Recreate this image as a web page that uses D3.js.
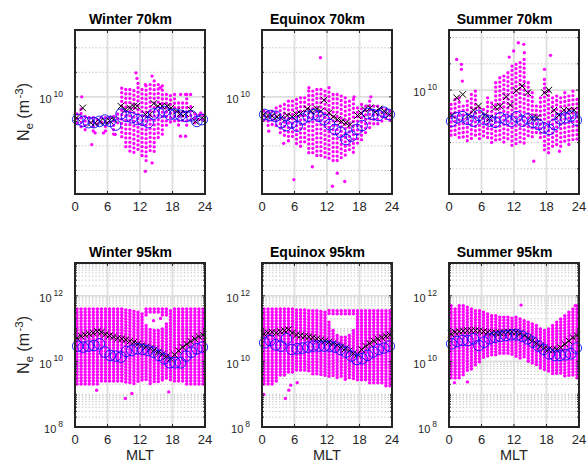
<!DOCTYPE html>
<html lang="en">
<head>
<meta charset="UTF-8">
<title>Ne vs MLT</title>
<script src="https://d3js.org/d3.v7.min.js"></script>
<style>
    body { margin: 0; background: #fff; }
    svg { display: block; font-family: "Liberation Sans", Arial, sans-serif; }
</style>
</head>
<body>
<script>
    // MLT bins (hours)
    const hourBins = [0.5, 1.5, 2.5, 3.5, 4.5, 5.5, 6.5, 7.5, 8.5, 9.5, 10.5, 11.5,
        12.5, 13.5, 14.5, 15.5, 16.5, 17.5, 18.5, 19.5, 20.5, 21.5, 22.5, 23.5];
    const colBins = [0.375, 1.125, 1.875, 2.625, 3.375, 4.125, 4.875, 5.625, 6.375, 7.125, 7.875,
        8.625, 9.375, 10.125, 10.875, 11.625, 12.375, 13.125, 13.875, 14.625, 15.375, 16.125,
        16.875, 17.625, 18.375, 19.125, 19.875, 20.625, 21.375, 22.125, 22.875, 23.625];
    const mltTicks = [0, 6, 12, 18, 24];

    // all densities below are log10(Ne [m^-3])
    const limW70 = [9.208, 10.545], limE70 = [9.208, 10.545], limS70 = [9.208, 10.458];
    const lim95 = [8, 13];
    const minor70 = [9.4, 9.6, 9.8, 10.2, 10.4];

    // ---- Winter 70 km
    const w70Circ = [9.815, 9.80, 9.79, 9.79, 9.80, 9.81, 9.80, 9.77, 9.86, 9.84, 9.83, 9.815,
        9.81, 9.79, 9.86, 9.87, 9.88, 9.855, 9.86, 9.85, 9.84, 9.845, 9.80, 9.815];
    const w70Cross = [[0.31, 9.829], [1.42, 9.91], [2.91, 9.788], [3.71, 9.788], [4.64, 9.80],
        [5.57, 9.80], [6.37, 9.807], [7.11, 9.818], [8.47, 9.924], [9.28, 9.897], [10.08, 9.91],
        [10.83, 9.924], [11.44, 9.924], [12.99, 9.856], [13.79, 9.856], [14.54, 9.946],
        [15.28, 9.924], [16.08, 9.924], [17.01, 9.924], [17.75, 9.91], [18.74, 9.883],
        [19.49, 9.864], [20.41, 9.864], [21.34, 9.897], [22.27, 9.80], [23.51, 9.829]];
    const w70Lo = [9.76, 9.73, 9.71, 9.76, 9.70, 9.76, 9.76, 9.71, 9.76, 9.69, 9.76, 9.64, 9.56,
        9.53, 9.52, 9.56, 9.50, 9.46, 9.53, 9.54, 9.64, 9.67, 9.76, 9.79, 9.79, 9.76, 9.79, 9.76,
        9.79, 9.77, 9.79, 9.79];
    const w70Hi = [9.86, 9.90, 9.84, 9.83, 9.83, 9.815, 9.83, 9.83, 9.83, 9.84, 9.86, 10.07, 10.06,
        10.06, 10.05, 10.11, 10.06, 10.09, 10.10, 10.13, 10.10, 10.09, 10.02, 10.01, 10.02, 9.95,
        9.95, 10.02, 9.92, 9.86, 9.85, 9.85];
    const w70Out = [[1.24, 10.0], [3.09, 9.611], [5.26, 9.706], [7.42, 9.693], [3.71, 9.706],
        [11.26, 10.196], [11.44, 10.15], [12.99, 10.10], [14.23, 10.169], [15.77, 10.074],
        [19.48, 9.679], [20.41, 9.679], [21.34, 10.019], [12.99, 9.393], [14.23, 9.461],
        [23.2, 9.87], [19.5, 10.02], [20.4, 10.02]];

    // ---- Equinox 70 km
    const e70Circ = [9.856, 9.848, 9.842, 9.79, 9.766, 9.788, 9.761, 9.82, 9.842, 9.856, 9.842,
        9.815, 9.774, 9.734, 9.712, 9.652, 9.679, 9.734, 9.766, 9.864, 9.856, 9.848, 9.875, 9.856];
    const e70Cross = [[0.31, 9.856], [1.11, 9.848], [1.86, 9.842], [2.78, 9.837], [3.53, 9.829],
        [4.64, 9.848], [5.57, 9.837], [6.37, 9.856], [7.11, 9.864], [8.35, 9.902], [9.09, 9.883],
        [10.08, 9.902], [10.83, 9.883], [11.44, 9.973], [12.37, 9.87], [13.18, 9.837],
        [13.92, 9.815], [14.66, 9.80], [15.47, 9.788], [16.27, 9.774], [17.63, 9.848],
        [18.37, 9.864], [18.99, 9.897], [19.98, 9.91], [20.85, 9.875], [21.65, 9.902],
        [22.58, 9.883], [23.51, 9.856]];
    const e70Lo = [9.788, 9.761, 9.761, 9.747, 9.706, 9.652, 9.625, 9.652, 9.611, 9.570, 9.598,
        9.530, 9.530, 9.516, 9.502, 9.489, 9.475, 9.475, 9.461, 9.489, 9.502, 9.557, 9.530, 9.611,
        9.625, 9.679, 9.734, 9.761, 9.761, 9.788, 9.80, 9.788];
    const e70Hi = [9.883, 9.875, 9.883, 9.910, 9.924, 9.938, 9.965, 9.965, 9.979, 9.992, 9.992,
        10.047, 10.047, 10.060, 10.060, 10.047, 10.074, 10.019, 10.019, 10.006, 9.992, 9.965, 9.979,
        9.910, 9.938, 9.924, 9.965, 9.924, 9.924, 9.910, 9.896, 9.883];
    const e70Out = [[10.8, 10.319], [8.66, 10.074], [5.88, 9.326], [13.0, 9.271], [15.28, 9.31],
        [13.9, 9.377], [4.0, 9.621], [1.24, 9.72], [20.1, 10.0], [17.0, 10.0], [9.3, 9.43]];

    // ---- Summer 70 km
    const s70Circ = [9.763, 9.789, 9.797, 9.776, 9.763, 9.807, 9.776, 9.763, 9.755, 9.789, 9.776,
        9.763, 9.797, 9.763, 9.781, 9.755, 9.738, 9.712, 9.70, 9.738, 9.781, 9.789, 9.802, 9.771];
    const s70Cross = [[0.49, 9.809], [1.42, 9.941], [2.54, 9.967], [3.59, 9.809], [4.52, 9.847],
        [5.44, 9.878], [6.56, 9.809], [7.48, 9.784], [8.54, 9.868], [9.46, 9.878], [10.58, 9.949],
        [11.32, 9.886], [12.43, 9.995], [13.49, 10.031], [14.54, 9.98], [15.34, 9.784],
        [16.27, 9.791], [17.63, 9.98], [18.43, 10.0], [19.36, 9.847], [20.29, 9.809],
        [21.22, 9.847], [22.15, 9.847], [23.07, 9.847]];
    const s70Lo = [9.649, 9.636, 9.623, 9.611, 9.611, 9.623, 9.636, 9.611, 9.623, 9.611, 9.585,
        9.598, 9.611, 9.598, 9.611, 9.573, 9.56, 9.573, 9.585, 9.623, 9.623, 9.649, 9.611, 9.534,
        9.522, 9.547, 9.56, 9.547, 9.611, 9.56, 9.598, 9.623];
    const s70Hi = [9.891, 9.929, 9.941, 9.878, 9.916, 9.967, 9.992, 9.865, 9.852, 9.941, 9.903,
        10.056, 10.094, 10.107, 10.132, 10.183, 10.196, 10.209, 10.234, 10.056, 9.98, 9.878, 9.941,
        10.081, 9.992, 9.941, 9.954, 9.941, 9.98, 9.954, 9.992, 9.929];
    const s70Out = [[1.42, 10.234], [2.29, 10.196], [2.29, 10.158], [2.47, 10.069], [11.13, 10.252],
        [11.94, 10.298], [12.8, 10.361], [13.8, 10.349], [13.92, 10.285], [18.74, 10.265],
        [15.65, 9.458], [20.4, 9.534], [17.63, 10.158]];

    // ---- Winter 95 km
    const w95Circ = [10.466, 10.435, 10.466, 10.486, 10.536, 10.284, 10.183, 10.163, 10.132, 10.304,
        10.334, 10.385, 10.365, 10.334, 10.284, 10.183, 10.082, 9.96, 9.96, 9.96, 10.163, 10.284,
        10.385, 10.435];
    const w95Cross = [10.708, 10.768, 10.809, 10.839, 10.869, 10.91, 10.89, 10.829, 10.789, 10.748,
        10.708, 10.688, 10.657, 10.617, 10.587, 10.536, 10.486, 10.445, 10.395, 10.344, 10.284,
        10.213, 10.142, 10.082, 10.203, 10.324, 10.435, 10.526, 10.607, 10.688, 10.758, 10.809];
    const w95Lo = [9.223, 9.223, 9.254, 9.274, 9.294, 9.294, 9.324, 9.375, 9.355, 9.375, 9.324,
        9.355, 9.324, 9.324, 9.324, 9.355, 9.375, 9.355, 9.324, 9.324, 9.355, 9.395, 9.425, 9.425,
        9.375, 9.355, 9.324, 9.274, 9.223, 9.223, 9.223, 9.223];
    const w95Hi = [11.597, 11.597, 11.597, 11.597, 11.597, 11.597, 11.597, 11.597, 11.597, 11.597,
        11.597, 11.597, 11.57, 11.55, 11.52, 11.50, 11.445, 11.092, 10.971, 10.94, 10.94, 10.991,
        11.142, 11.546, 11.597, 11.597, 11.597, 11.597, 11.597, 11.597, 11.597, 11.597];
    const w95Extra = [[13.125, 11.395, 11.597], [13.875, 11.445, 11.597], [14.625, 11.445, 11.597],
        [15.375, 11.445, 11.597], [16.125, 11.395, 11.597], [16.875, 11.345, 11.597]];
    const w95Out = [[10.5, 9.021], [9.3, 8.87], [17.3, 9.07], [4.0, 9.12], [14.5, 11.243],
        [15.8, 11.31]];

    // ---- Equinox 95 km
    const e95Circ = [10.566, 10.637, 10.506, 10.466, 10.688, 10.365, 10.385, 10.405, 10.435, 10.466,
        10.466, 10.466, 10.466, 10.435, 10.365, 10.284, 10.163, 10.062, 10.082, 10.183, 10.284,
        10.365, 10.405, 10.466];
    const e95Cross = [10.839, 10.869, 10.89, 10.869, 10.91, 10.94, 10.971, 10.869, 10.809, 10.789,
        10.768, 10.748, 10.728, 10.688, 10.657, 10.627, 10.587, 10.546, 10.496, 10.435, 10.385,
        10.324, 10.243, 10.203, 10.365, 10.466, 10.546, 10.627, 10.688, 10.728, 10.768, 10.809];
    const e95Lo = [9.223, 9.254, 9.294, 9.375, 9.496, 9.577, 9.627, 9.658, 9.678, 9.678, 9.658,
        9.627, 9.597, 9.577, 9.557, 9.526, 9.516, 9.496, 9.476, 9.476, 9.456, 9.456, 9.425, 9.395,
        9.375, 9.355, 9.334, 9.314, 9.294, 9.274, 9.254, 9.223];
    const e95Hi = [11.597, 11.597, 11.597, 11.597, 11.597, 11.597, 11.597, 11.597, 11.57, 11.57,
        11.57, 11.546, 11.546, 11.546, 11.52, 11.50, 11.193, 10.94, 10.789, 10.738, 10.738, 10.789,
        10.94, 11.546, 11.546, 11.546, 11.546, 11.546, 11.546, 11.546, 11.546, 11.546];
    const e95Extra = [[12.375, 11.40, 11.55], [13.125, 11.445, 11.546], [13.875, 11.445, 11.546],
        [14.625, 11.445, 11.546], [15.375, 11.445, 11.546], [16.125, 11.445, 11.546],
        [16.875, 11.395, 11.546]];
    const e95Out = [[0.3, 8.991], [4.33, 8.87], [4.95, 9.122], [5.3, 9.274], [6.5, 9.35]];

    // ---- Summer 95 km
    const s95Circ = [10.536, 10.607, 10.637, 10.637, 10.688, 10.486, 10.587, 10.688, 10.738, 10.768,
        10.789, 10.809, 10.809, 10.768, 10.688, 10.587, 10.466, 10.365, 10.233, 10.183, 10.183,
        10.203, 10.233, 10.405];
    const s95Cross = [10.839, 10.89, 10.91, 10.93, 10.94, 10.94, 10.94, 10.93, 10.91, 10.89, 10.869,
        10.869, 10.869, 10.879, 10.89, 10.899, 10.89, 10.849, 10.789, 10.708, 10.627, 10.546,
        10.466, 10.405, 10.365, 10.344, 10.365, 10.425, 10.526, 10.627, 10.728, 10.789];
    const s95Lo = [9.425, 9.456, 9.496, 9.577, 9.658, 9.758, 9.88, 9.981, 10.082, 10.142, 10.183,
        10.203, 10.203, 10.203, 10.183, 10.163, 10.132, 10.102, 10.062, 10.001, 9.93, 9.86, 9.779,
        9.718, 9.658, 9.617, 9.577, 9.557, 9.526, 9.516, 9.496, 9.476];
    const s95Hi = [11.698, 11.597, 11.698, 11.698, 11.648, 11.597, 11.546, 11.546, 11.496, 11.445,
        11.395, 11.395, 11.345, 11.345, 11.345, 11.314, 11.345, 11.294, 11.243, 11.193, 11.142,
        11.092, 10.991, 10.94, 10.991, 11.092, 11.193, 11.294, 11.395, 11.496, 11.597, 11.698];
    const s95Out = [[13.3, 11.718], [3.4, 9.375], [23.3, 11.70], [1.0, 9.35]];

    const pairUp = (xs, ys) => xs.map((t, i) => [t, ys[i]]);

    const panels = [
        { title: "Winter 70km", col: 0, row: 0, lim: limW70, minor: minor70, major: [10],
          circ: w70Circ, cross: w70Cross, lo: w70Lo, hi: w70Hi, extra: [], out: w70Out },
        { title: "Equinox 70km", col: 1, row: 0, lim: limE70, minor: minor70, major: [10],
          circ: e70Circ, cross: e70Cross, lo: e70Lo, hi: e70Hi, extra: [], out: e70Out },
        { title: "Summer 70km", col: 2, row: 0, lim: limS70, minor: minor70, major: [10],
          circ: s70Circ, cross: s70Cross, lo: s70Lo, hi: s70Hi, extra: [], out: s70Out },
        { title: "Winter 95km", col: 0, row: 1, lim: lim95, major: [8, 10, 12],
          circ: w95Circ, cross: pairUp(colBins, w95Cross), lo: w95Lo, hi: w95Hi, extra: w95Extra, out: w95Out },
        { title: "Equinox 95km", col: 1, row: 1, lim: lim95, major: [8, 10, 12],
          circ: e95Circ, cross: pairUp(colBins, e95Cross), lo: e95Lo, hi: e95Hi, extra: e95Extra, out: e95Out },
        { title: "Summer 95km", col: 2, row: 1, lim: lim95, major: [8, 10, 12],
          circ: s95Circ, cross: pairUp(colBins, s95Cross), lo: s95Lo, hi: s95Hi, extra: [], out: s95Out }
    ];

    // decade minor ticks for the 95 km log axes
    const minor95 = [];
    for (let n = 8; n < 13; n++) {
        for (let m = 1; m <= 9; m++) {
            if (m === 1 && n % 2 === 0) continue;
            minor95.push(n + Math.log10(m));
        }
    }

    const colX = [75, 262, 449], rowY = [30, 263];
    const W = 130, H = 164;
    const ink = "#262626";

    const svg = d3.select("body").append("svg")
        .attr("width", 588)
        .attr("height", 462);

    panels.forEach(drawPanel);

    function drawPanel(p) {
        const x0 = colX[p.col], y0 = rowY[p.row];
        const x = d3.scaleLinear().domain([0, 24]).range([x0, x0 + W]);
        const y = d3.scaleLog().domain([10 ** p.lim[0], 10 ** p.lim[1]]).range([y0 + H, y0]);
        const yv = v => y(10 ** v);
        const minor = p.minor || minor95;
        const g = svg.append("g");

        // grid
        g.selectAll(".mgrid").data(minor).join("line")
            .attr("x1", x0).attr("x2", x0 + W)
            .attr("y1", d => yv(d)).attr("y2", d => yv(d))
            .attr("stroke", "#c4c4c4").attr("stroke-width", 1)
            .attr("stroke-dasharray", "1.4,2");
        g.selectAll(".ygrid").data(p.major.filter(d => d > p.lim[0] && d < p.lim[1])).join("line")
            .attr("x1", x0).attr("x2", x0 + W)
            .attr("y1", d => yv(d)).attr("y2", d => yv(d))
            .attr("stroke", "#dedede").attr("stroke-width", 1.8);
        g.selectAll(".xgrid").data([6, 12, 18]).join("line")
            .attr("x1", d => x(d)).attr("x2", d => x(d))
            .attr("y1", y0).attr("y2", y0 + H)
            .attr("stroke", "#dedede").attr("stroke-width", 1.8);

        // magenta samples drawn as dotted columns per MLT bin
        const pitch = p.row === 0 ? 4.4 : 3.0;
        const cols = colBins.map((t, i) => [t, p.lo[i], p.hi[i]]).concat(p.extra);
        g.selectAll(".col").data(cols).join("line")
            .attr("x1", d => x(d[0])).attr("x2", d => x(d[0]))
            .attr("y1", d => yv(d[2])).attr("y2", d => yv(d[1]))
            .attr("stroke", "#ff00ff").attr("stroke-width", p.row === 0 ? 3.3 : 3.5)
            .attr("stroke-linecap", "round")
            .attr("stroke-dasharray", `0 ${pitch}`);
        g.selectAll(".out").data(p.out).join("circle")
            .attr("cx", d => x(d[0])).attr("cy", d => yv(d[1]))
            .attr("r", 1.65).attr("fill", "#ff00ff");

        // medians
        g.selectAll(".cross").data(p.cross).join("path")
            .attr("transform", d => `translate(${x(d[0])},${yv(d[1])})`)
            .attr("d", "M-3.3,-3.3L3.3,3.3M-3.3,3.3L3.3,-3.3")
            .attr("stroke", "#000").attr("stroke-width", 1).attr("fill", "none");
        g.selectAll(".circ").data(p.circ).join("circle")
            .attr("cx", (d, i) => x(hourBins[i])).attr("cy", d => yv(d))
            .attr("r", 5.3).attr("fill", "none")
            .attr("stroke", "#0a0aff").attr("stroke-width", 0.9);

        // ticks (inward, all four sides)
        const tk = g.append("g").attr("stroke", ink).attr("stroke-width", 1);
        mltTicks.forEach(t => {
            tk.append("line").attr("x1", x(t)).attr("x2", x(t)).attr("y1", y0 + H).attr("y2", y0 + H - 3);
            tk.append("line").attr("x1", x(t)).attr("x2", x(t)).attr("y1", y0).attr("y2", y0 + 3);
        });
        minor.concat(p.major).filter(d => d > p.lim[0] && d < p.lim[1]).forEach(v => {
            const len = p.major.includes(v) ? 3 : 2;
            tk.append("line").attr("x1", x0).attr("x2", x0 + len).attr("y1", yv(v)).attr("y2", yv(v));
            tk.append("line").attr("x1", x0 + W).attr("x2", x0 + W - len).attr("y1", yv(v)).attr("y2", yv(v));
        });

        // frame
        g.append("rect")
            .attr("x", x0).attr("y", y0).attr("width", W).attr("height", H)
            .attr("fill", "none").attr("stroke", ink).attr("stroke-width", 2);

        // x tick labels
        g.selectAll(".xl").data(mltTicks).join("text")
            .attr("x", d => x(d)).attr("y", y0 + H + 16.5)
            .attr("text-anchor", "middle").attr("font-size", 13).attr("fill", ink)
            .text(d => d);

        // y tick labels 10^n
        p.major.forEach(n => {
            const yy = yv(n);
            const t = g.append("text")
                .attr("x", x0 - 12).attr("y", yy + 6.3)
                .attr("text-anchor", "end").attr("font-size", 11).attr("fill", ink);
            t.append("tspan").text("10");
            t.append("tspan").attr("font-size", 8.5).attr("dx", 2).attr("dy", -6.5).text(n);
        });

        // title
        g.append("text")
            .attr("x", x0 + W / 2 - 9.5).attr("y", y0 - 6.5)
            .attr("text-anchor", "middle").attr("font-size", 14).attr("font-weight", "bold")
            .attr("fill", "#000").text(p.title);

        if (p.col === 0) {
            const cy = y0 + H / 2;
            const lab = g.append("text")
                .attr("transform", `translate(29,${cy}) rotate(-90)`)
                .attr("text-anchor", "middle").attr("font-size", 16).attr("fill", ink);
            lab.append("tspan").text("N");
            lab.append("tspan").attr("font-size", 11.5).attr("dy", 3.5).text("e");
            lab.append("tspan").attr("dy", -3.5).text("\u00a0(m");
            lab.append("tspan").attr("font-size", 11.5).attr("dy", -6).attr("dx", 1.5).text("-3");
            lab.append("tspan").attr("dy", 6).text(")");
        }
        if (p.row === 1) {
            g.append("text")
                .attr("x", x0 + W / 2).attr("y", y0 + H + 32.5)
                .attr("text-anchor", "middle").attr("font-size", 14.5).attr("fill", ink)
                .text("MLT");
        }
    }
</script>
</body>
</html>
